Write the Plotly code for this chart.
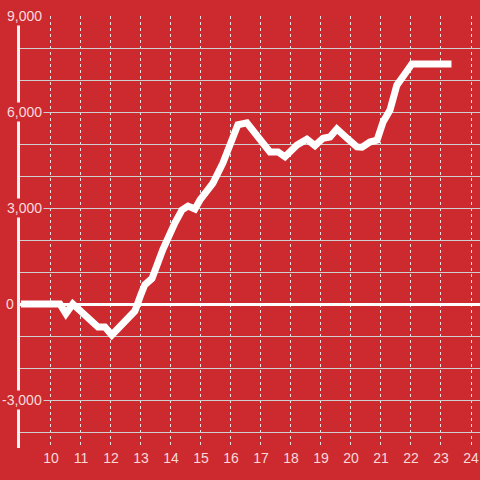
import plotly.graph_objects as go

# hour of day
hours = [9.0, 10.3, 10.5, 10.73, 11.57, 11.8, 12.03, 12.57, 12.8, 13.0, 13.13, 13.37,
         13.73, 14.13, 14.37, 14.57, 14.8, 14.97, 15.4, 15.73, 16.07, 16.23, 16.53,
         16.97, 17.3, 17.57, 17.8, 18.2, 18.53, 18.8, 19.07, 19.3, 19.53, 19.87,
         20.2, 20.37, 20.63, 20.87, 21.07, 21.3, 21.53, 21.73, 22.03, 23.35]
# cumulative value
values = [0, 0, -300, 0, -720, -720, -970, -400, -220, 300, 600, 800,
          1700, 2530, 2940, 3060, 2970, 3250, 3780, 4400, 5220, 5600, 5660,
          5120, 4750, 4750, 4600, 4970, 5150, 4950, 5180, 5220, 5470, 5180,
          4910, 4900, 5060, 5120, 5690, 6060, 6840, 7100, 7500, 7500]

x_ticks = list(range(10, 25))
y_grid = list(range(-4000, 9001, 1000))
y_label_vals = [9000, 6000, 3000, 0, -3000]
y_label_text = ["9,000", "6,000", "3,000", "0", "-3,000"]

BG = "#CC2A2F"
TXT = "rgba(255,235,235,0.92)"
FONT = "Liberation Sans, Arial, sans-serif"
PLOT_L, PLOT_W = 20, 460

fig = go.Figure()
fig.add_trace(go.Scatter(x=hours, y=values, mode="lines",
                         line=dict(color="white", width=7), hoverinfo="skip"))

fig.update_layout(
    width=480, height=480,
    margin=dict(l=PLOT_L, r=0, t=16, b=32, autoexpand=False),
    paper_bgcolor=BG, plot_bgcolor=BG,
    showlegend=False,
    font=dict(family=FONT, size=14, color=TXT),
)
fig.update_xaxes(
    range=[8.97, 24.3], tickvals=x_ticks, ticktext=[str(t) for t in x_ticks],
    showgrid=True, gridcolor="#e4e4e4", gridwidth=1, griddash="dot",
    zeroline=False, showline=False, ticks="", automargin=False,
    tickfont=dict(size=14, color=TXT, family=FONT),
)
fig.update_yaxes(
    range=[-4500, 9000], tickvals=y_grid, showticklabels=False,
    showgrid=True, gridcolor="#cfcfcf", gridwidth=1, automargin=False,
    zeroline=True, zerolinecolor="white", zerolinewidth=3,
    showline=True, linecolor="#f2f2f2", linewidth=3, ticks="",
)
for v, t in zip(y_label_vals, y_label_text):
    right_px = 16 if v == 0 else 44
    fig.add_annotation(x=(right_px - PLOT_L) / PLOT_W, xref="paper", y=v, yref="y", text=t,
                       showarrow=False, xanchor="right", yanchor="middle",
                       bgcolor=BG, borderpad=1,
                       font=dict(size=14, color=TXT, family=FONT))

fig.write_html("out.html", config={"displayModeBar": False},
               post_script="document.body.style.margin='0';document.body.style.overflow='hidden';document.body.style.background='" + BG + "';")
